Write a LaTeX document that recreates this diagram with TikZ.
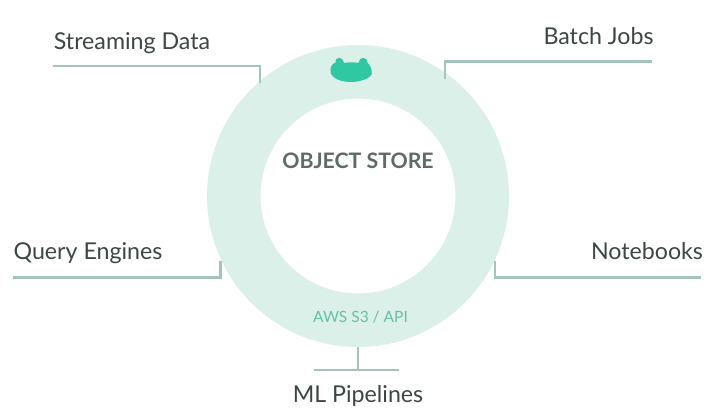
\documentclass[tikz,border=0pt]{standalone}
\usepackage{fontspec}
\setmainfont{Lato}
\definecolor{ringc}{HTML}{DCF0EA}
\definecolor{linec}{HTML}{A3C4B9}
\definecolor{labelc}{HTML}{3C4644}
\definecolor{titlec}{HTML}{5E6B68}
\definecolor{apic}{HTML}{66BFA6}
\definecolor{logoc}{HTML}{30C8A2}
\tikzset{
  lab/.style={inner sep=0pt,text=labelc,font=\fontsize{23.2}{26}\selectfont,anchor=base},
  conn/.style={draw=linec,line width=2.1pt,line cap=butt,line join=miter},
}
\begin{document}
\begin{tikzpicture}[x=1pt,y=-1pt]
\useasboundingbox (0,0) rectangle (727,418);
\fill[white] (0,0) rectangle (727,418);
\fill[ringc,even odd rule] (358,196) circle[radius=151] (358,196) circle[radius=97.5];
% logo
\fill[logoc] (330.5,72)
  .. controls (330,67) and (332,64) .. (335.5,62.5)
  .. controls (335.5,59) and (337,57.8) .. (339.5,57.8)
  .. controls (342,57.8) and (343.5,60) .. (344,63)
  .. controls (349,62) and (354,62) .. (358.5,63)
  .. controls (359,60) and (360.5,57.8) .. (363,57.8)
  .. controls (366,57.8) and (367.5,60) .. (367.5,63)
  .. controls (370,65) and (372,68) .. (371.8,74)
  .. controls (370,79) and (359,82) .. (351,82)
  .. controls (342,82) and (332,79) .. (330.5,72) -- cycle;
% labels
\node[inner sep=0pt,text=titlec,font=\fontsize{21.3}{24}\selectfont\bfseries,anchor=base] (store) at (358,168) {OBJECT STORE};
\node[inner sep=0pt,text=apic,font=\fontsize{15.5}{18}\selectfont,anchor=base] (api) at (360.5,322) {AWS S3 / API};
\node[lab] (stream) at (132,49.5) {Streaming Data};
\node[lab] (batch) at (598.5,44.3) {Batch Jobs};
\node[lab] (query) at (88,259.3) {Query Engines};
\node[lab] (note) at (647,259.3) {Notebooks};
\node[lab] (ml) at (358,402.2) {ML Pipelines};
% connector ends
\coordinate (s0) at (53,65.7); \coordinate (s1) at (260,65.7); \coordinate (s2) at (260,83);
\coordinate (b0) at (652,61.5); \coordinate (b1) at (445,61.5); \coordinate (b2) at (445,79);
\coordinate (q0) at (13,277.5); \coordinate (q1) at (220.5,277.5); \coordinate (q2) at (220.5,261);
\coordinate (n0) at (701,277.5); \coordinate (n1) at (495,277.5); \coordinate (n2) at (495,261);
\coordinate (m0) at (314,370); \coordinate (m1) at (399,370); \coordinate (m2) at (358,347); \coordinate (m3) at (358,370);
\draw[conn] (s0) -- (s1) -- (s2);
\draw[conn] (b0) -- (b1) -- (b2);
\draw[conn] (q0) -- (q1) -- (q2);
\draw[conn] (n0) -- (n1) -- (n2);
\draw[conn] (m0) -- (m1);
\draw[conn] (m2) -- (m3);
\end{tikzpicture}
\end{document}
